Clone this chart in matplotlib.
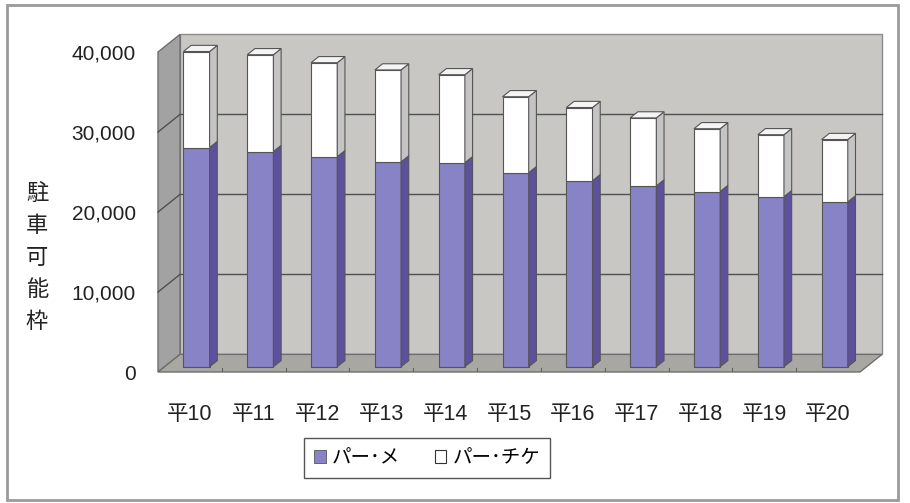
#!/usr/bin/env python3

import numpy as np
import matplotlib.pyplot as plt
from matplotlib.patches import Polygon, Rectangle, Patch

plt.rcParams['font.family'] = ['Liberation Sans', 'Noto Sans CJK JP', 'DejaVu Sans']

years = ["平10", "平11", "平12", "平13", "平14", "平15", "平16", "平17", "平18", "平19", "平20"]
meter = [27400, 26900, 26250, 25600, 25500, 24250, 23250, 22600, 21900, 21250, 20600]
ticket = [12000, 12100, 11750, 11500, 11000, 9500, 9150, 8500, 7850, 7750, 7800]
series_names = ["パー･メ", "パー･チケ"]
yticks = [0, 10000, 20000, 30000, 40000]

# pseudo-3d depth of the box, in data units
DX = 0.345
DY = 2200
YMAX = 40000
F0, F1 = 0.30, 0.65   # bar front / back position within the depth
HALF = 0.205          # half bar width

front_col = ["#8883c6", "#ffffff"]
side_col = ["#5d519e", "#c4c4c4"]
top_col = ["#9b97d2", "#f4f4f4"]


def poly(ax, pts, fc, ec="#555555", lw=0.8, z=1):
    ax.add_patch(Polygon(pts, closed=True, facecolor=fc, edgecolor=ec,
                         linewidth=lw, zorder=z, clip_on=False))


def bar3d(ax, x, y0, y1, fc, sc, tc, z, top=True):
    xf = x + F0 * DX
    yo = F0 * DY
    ddx = (F1 - F0) * DX
    ddy = (F1 - F0) * DY
    l, r = xf - HALF, xf + HALF
    b, t = y0 + yo, y1 + yo
    poly(ax, [(l, b), (r, b), (r, t), (l, t)], fc, z=z)
    poly(ax, [(r, b), (r + ddx, b + ddy), (r + ddx, t + ddy), (r, t)], sc, z=z)
    if top:
        poly(ax, [(l, t), (r, t), (r + ddx, t + ddy), (l + ddx, t + ddy)], tc, z=z)


fig = plt.figure(figsize=(9.1, 5.03), dpi=100)
ax = fig.add_axes([158 / 910, 1 - 372 / 503, 702 / 910, 320 / 503])
ax.set_xlim(-0.5, 10.5)
ax.set_ylim(0, YMAX)
ax.patch.set_alpha(0)
for s in ax.spines.values():
    s.set_visible(False)

n = len(years)
x0, x1 = -0.5, n - 0.5

# walls and floor
poly(ax, [(x0 + DX, DY), (x1 + DX, DY), (x1 + DX, YMAX + DY), (x0 + DX, YMAX + DY)],
     "#c9c7c4", ec="#8c8c8c", lw=1.0, z=0)
poly(ax, [(x0, 0), (x0 + DX, DY), (x0 + DX, YMAX + DY), (x0, YMAX)],
     "#a2a2a2", ec="#6e6e6e", lw=1.0, z=0)
poly(ax, [(x0, 0), (x1, 0), (x1 + DX, DY), (x0 + DX, DY)],
     "#a9a7a1", ec="#6e6e6e", lw=1.0, z=0)

# gridlines on back and side wall
for v in yticks[1:-1]:
    ax.plot([x0 + DX, x1 + DX], [v + DY, v + DY], color="#505050", lw=1.0,
            zorder=0.5, clip_on=False)
    ax.plot([x0, x0 + DX], [v, v + DY], color="#505050", lw=1.0,
            zorder=0.5, clip_on=False)

# small category separators along the front edge of the floor
for k in range(1, n):
    ax.plot([x0 + k, x0 + k], [0, 500], color="#606060", lw=0.8, zorder=0.6)

meter = np.array(meter)
ticket = np.array(ticket)
for i in range(n):
    bar3d(ax, i, 0, meter[i], front_col[0], side_col[0], top_col[0], 2, top=False)
    bar3d(ax, i, meter[i], meter[i] + ticket[i], front_col[1], side_col[1], top_col[1], 2)

ax.set_yticks(yticks)
ax.set_yticklabels([f"{v:,}" for v in yticks], fontsize=15, color="#222222")
ax.set_xticks(range(n))
ax.set_xticklabels(years, fontsize=15.5, color="#222222")
ax.tick_params(axis="y", length=0, pad=16)
ax.tick_params(axis="x", length=0, pad=23)

fig.text(37 / 910, 1 - 257 / 503, "駐\n車\n可\n能\n枠", fontsize=16,
         ha="center", va="center", linespacing=1.5, color="#222222",
         family=["Noto Sans CJK JP", "DejaVu Sans"])

handles = [Patch(facecolor=front_col[0], edgecolor="#555555", lw=0.6),
           Patch(facecolor=front_col[1], edgecolor="#333333", lw=0.8)]
leg = fig.legend(handles, series_names, loc="center",
                 bbox_to_anchor=(427 / 910, 1 - 458 / 503), ncol=2,
                 fancybox=False, edgecolor="#555555", framealpha=1,
                 handlelength=0.6, handleheight=0.6, handletextpad=0.3,
                 columnspacing=1.8, borderpad=0.5, borderaxespad=0,
                 prop={"family": ["Noto Sans CJK JP", "DejaVu Sans"], "size": 14})
leg.get_frame().set_linewidth(1.0)

# outer chart border
fig.patches.append(Rectangle((7 / 910, 1 - 500 / 503), 891 / 910, 495 / 503,
                             transform=fig.transFigure, fill=False,
                             edgecolor="#9a9a9a", lw=2))

fig.savefig("out.png", dpi=100)
